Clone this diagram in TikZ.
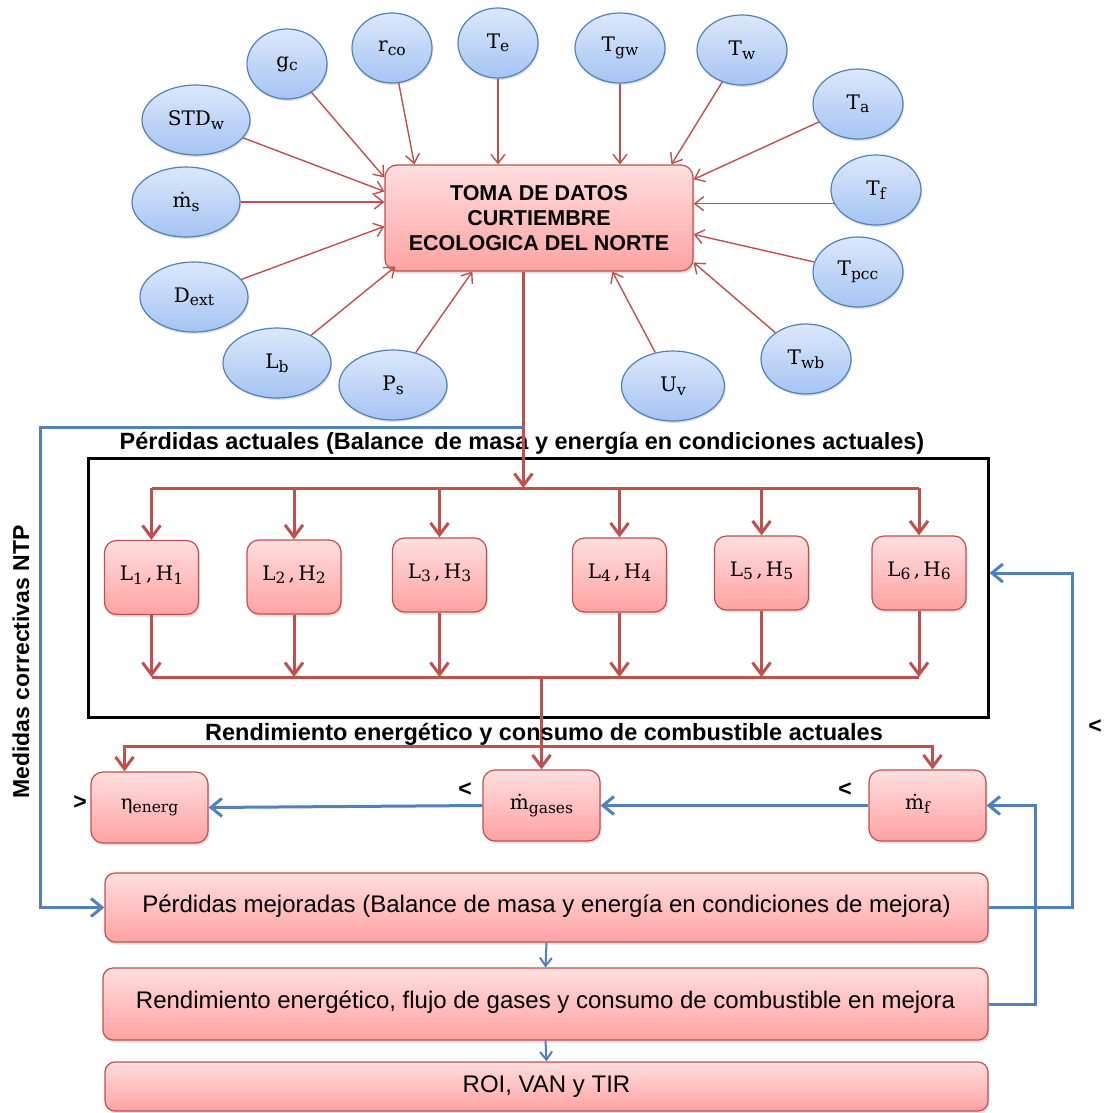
\documentclass[tikz,border=0pt]{standalone}
\usepackage{fontspec}
\setmainfont{Liberation Sans}
\newfontfamily\symf{DejaVu Serif}
\usetikzlibrary{shapes.geometric,arrows.meta,shadows,calc}

\definecolor{ebord}{HTML}{4F81BD}
\definecolor{etop}{HTML}{DCE8FB}
\definecolor{ebot}{HTML}{A5C4F3}
\definecolor{rbord}{HTML}{C0504D}
\definecolor{rtop}{HTML}{FFDEDE}
\definecolor{rbot}{HTML}{FFA2A2}
\definecolor{rline}{HTML}{C0504D}
\definecolor{bline}{HTML}{4F81BD}

% lowered index for the variable names
\newcommand\lowidx[1]{\raisebox{-0.35ex}{\fontsize{15.5}{16}\selectfont #1}}
\newcommand\lhpair[1]{L\lowidx{#1}\,,\,H\lowidx{#1}}

\tikzset{
  param/.style={ellipse, draw=ebord, line width=1.2pt, top color=etop, bottom color=ebot,
    inner sep=0pt, minimum height=70, font=\symf\fontsize{20}{22}\selectfont,
    drop shadow={opacity=0.25, shadow xshift=1pt, shadow yshift=-2pt}},
  rbox/.style={rectangle, rounded corners=12pt, draw=rbord, line width=1.2pt,
    top color=rtop, bottom color=rbot, inner sep=0pt,
    drop shadow={opacity=0.25, shadow xshift=1.5pt, shadow yshift=-2.5pt}},
  lbox/.style={rbox, minimum width=94, minimum height=74, font=\symf\fontsize{20}{22}\selectfont},
  vbox/.style={rbox, minimum width=117, minimum height=71, font=\symf\fontsize{20}{22}\selectfont},
  wbox/.style={rbox, rounded corners=10pt, font=\fontsize{24}{28}\selectfont},
  thinred/.style={draw=rline, line width=1.4pt, -{Straight Barb[length=9pt,width=14pt,line width=1.4pt]}},
  redline/.style={draw=rline, line width=3pt},
  thickred/.style={redline, line join=miter, -{Straight Barb[length=12pt,width=18pt,line width=3pt]}},
  barrow/.style={draw=bline, line width=3pt, -{Straight Barb[length=11pt,width=18pt,line width=3pt]}},
  bsmall/.style={draw=bline, line width=2pt, -{Straight Barb[length=8pt,width=12pt,line width=2pt]}},
  headf/.style={font=\bfseries\fontsize{23.5}{26}\selectfont, inner sep=0pt},
  symb/.style={font=\bfseries\fontsize{23}{25}\selectfont, inner sep=0pt}
}

\begin{document}
\begin{tikzpicture}[x=1pt, y=-1pt]
\fill[white] (0,0) rectangle (1107,1113);
\useasboundingbox (0,0) rectangle (1107,1113);

% ---- data collection and its input variables ----
\node[rbox, minimum width=308, minimum height=106, align=center,
      font=\bfseries\fontsize{21.5}{25}\selectfont] (main) at (539,218)
      {TOMA DE DATOS\\CURTIEMBRE\\ECOLOGICA DEL NORTE};

\node[param, minimum width=80]  (gc)   at (287,64)  {g\lowidx{c}};
\node[param, minimum width=80]  (rco)  at (392,48)  {r\lowidx{co}};
\node[param, minimum width=80]  (Te)   at (498,43)  {T\lowidx{e}};
\node[param, minimum width=90]  (Tgw)  at (620,48)  {T\lowidx{gw}};
\node[param, minimum width=90]  (Tw)   at (742,50)  {T\lowidx{w}};
\node[param, minimum width=90]  (Ta)   at (858,104) {T\lowidx{a}};
\node[param, minimum width=108] (STD)  at (196,120) {STD\lowidx{w}};
\node[param, minimum width=108] (ms)   at (186,202) {ṁ\lowidx{s}};
\node[param, minimum width=90]  (Tf)   at (876,190) {T\lowidx{f}};
\node[param, minimum width=108] (Dext) at (194,297) {D\lowidx{ext}};
\node[param, minimum width=90]  (Tpcc) at (858,272) {T\lowidx{pcc}};
\node[param, minimum width=108] (Lb)   at (277,363) {L\lowidx{b}};
\node[param, minimum width=108] (Ps)   at (393,385) {P\lowidx{s}};
\node[param, minimum width=90]  (Twb)  at (806,359) {T\lowidx{wb}};
\node[param, minimum width=103] (Uv)   at (673,386) {U\lowidx{v}};

\draw[thinred] (gc)   -- ($(main.north west)+(0,13)$);
\draw[thinred] (STD)  -- ($(main.north west)+(0,27)$);
\draw[thinred] (ms)   -- (main.west |- ms);
\draw[thinred] (Dext) -- ($(main.north west)+(0,62)$);
\draw[thinred] (Lb)   -- ($(main.south west)+(11,-5)$);
\draw[thinred] (Ps)   -- ($(main.south west)+(88,0)$);
\draw[thinred] (rco)  -- ($(main.north west)+(30,0)$);
\draw[thinred] (Te)   -- (main.north -| Te);
\draw[thinred] (Tgw)  -- (main.north -| Tgw);
\draw[thinred] (Tw)   -- ($(main.north west)+(287,0)$);
\draw[thinred] (Ta)   -- ($(main.north east)+(0,15)$);
\draw[thinred] (Tf.198) -- (main.east |- Tf.198);
\draw[thinred] (Tpcc) -- ($(main.north east)+(0,70)$);
\draw[thinred] (Twb)  -- ($(main.north east)+(0,98)$);
\draw[thinred] (Uv)   -- ($(main.south west)+(228,0)$);

% ---- current losses ----
\node[draw, line width=3pt, minimum width=900, minimum height=259, inner sep=0pt] (frame) at (538,587.5) {};
\node[headf] (t1) at (522,443) {Pérdidas actuales (Balance\, de masa y energía en condiciones actuales)};

\node[lbox] (L1) at (151.5,577.5) {\raisebox{8pt}{\lhpair{1}}};
\node[lbox] (L2) at (294,577)     {\raisebox{8pt}{\lhpair{2}}};
\node[lbox] (L3) at (439.5,575)   {\raisebox{8pt}{\lhpair{3}}};
\node[lbox] (L4) at (619.5,575)   {\raisebox{8pt}{\lhpair{4}}};
\node[lbox] (L5) at (761.5,573)   {\raisebox{8pt}{\lhpair{5}}};
\node[lbox] (L6) at (919,573)     {\raisebox{8pt}{\lhpair{6}}};

\coordinate (mo)   at ($(main.south west)+(139,0)$);
\coordinate (bus1) at (0,488);
\coordinate (bus2) at (0,677);
\draw[redline] (L1.north |- bus1) -- (L6.north |- bus1);
\draw[redline] (L1.south |- bus2) -- (L6.south |- bus2);
\draw[thickred] (mo) -- (mo |- bus1);
\foreach \n in {L1,L2,L3,L4,L5,L6}{
  \draw[thickred] (\n.north |- bus1) -- (\n.north);
  \draw[thickred] (\n.south) -- (\n.south |- bus2);
}

% ---- current efficiency and fuel consumption ----
\node[vbox] (eta) at (149.5,807.5) {\raisebox{5pt}{η\lowidx{energ}}};
\node[vbox] (mg)  at (541.5,805.5) {\raisebox{5pt}{ṁ\lowidx{gases}}};
\node[vbox] (mf)  at (927.5,805.5) {\raisebox{7pt}{\hspace*{-20pt}ṁ\lowidx{f}}};

\coordinate (e3) at ($(eta.north)+(-25,-25)$);
\coordinate (f3) at ($(mf.north)+(5,-23)$);
\draw[thickred] (mg.north |- bus2) -- (mg.north);
\draw[thickred, {Straight Barb[length=12pt,width=18pt,line width=3pt]}-{Straight Barb[length=12pt,width=18pt,line width=3pt]}]
  (e3 |- eta.north) -- (e3) -- (f3) -- (f3 |- mf.north);
\node[headf] (t2) at (544,734) {Rendimiento energético y consumo de combustible actuales};

\draw[barrow] (mf.west) -- (mg.east);
\draw[barrow] (mg.west) -- (eta.east);
\node[symb] (s1) at (80,803)  {>};
\node[symb] (s2) at (465,790) {<};
\node[symb] (s3) at (845,790) {<};
\node[symb] (s4) at (1095,727) {<};

% ---- improved scenario ----
\node[wbox, minimum width=883, minimum height=69] (Pm) at (546.5,907.5)
  {\raisebox{8pt}{Pérdidas mejoradas (Balance de masa y energía en condiciones de mejora)}};
\node[wbox, minimum width=885, minimum height=72] (Rm) at (545.5,1004)
  {\raisebox{8pt}{Rendimiento energético, flujo de gases y consumo de combustible en mejora}};
\node[wbox, minimum width=883, minimum height=49] (roi) at (546.5,1086.5) {ROI, VAN y TIR};

\draw[bsmall] (Pm.south) -- (Rm.north);
\draw[bsmall] (Rm.south) -- (roi.north);

% ---- corrective measures feedback ----
\coordinate (bf) at (mo |- 0,427);
\coordinate (bc) at (40,427);
\draw[barrow] (bf) -- (bc) |- (Pm.west);
\node[rotate=90, font=\bfseries\fontsize{23}{25}\selectfont, inner sep=0pt] (med) at (21,662) {Medidas correctivas NTP};
\draw[barrow] (Pm.east) -- ++(84,0) |- (frame.east |- L6);
\draw[barrow] (Rm.east) -- ++(47,0) |- (mf.east);
\end{tikzpicture}
\end{document}
